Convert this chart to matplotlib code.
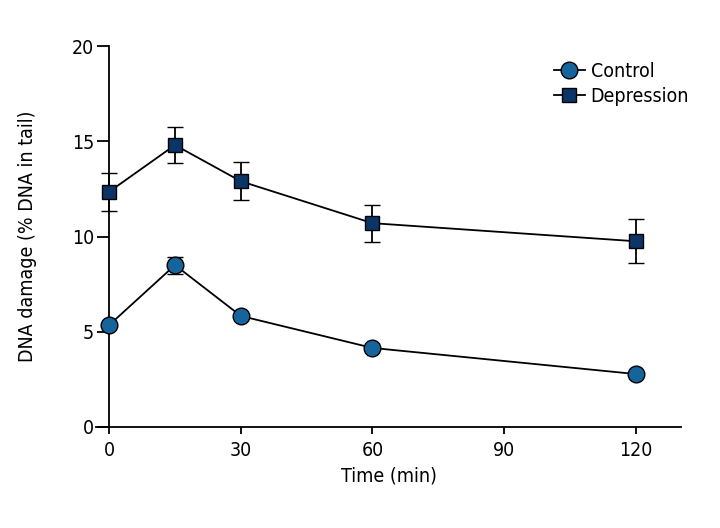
import matplotlib
matplotlib.use("Agg")
import matplotlib.pyplot as plt
from matplotlib.font_manager import fontManager
from matplotlib.lines import Line2D

# pick a condensed sans font if one is installed
cond = None
for f in fontManager.ttflist:
    st = str(f.stretch).lower()
    if ('condensed' in st or 'Narrow' in f.name or 'Condensed' in f.name) and f.style == 'normal' and f.weight in (400, 'normal', 'regular'):
        cond = f
        break
if cond is not None:
    plt.rcParams['font.family'] = [cond.name, 'DejaVu Sans']
    plt.rcParams['font.stretch'] = cond.stretch
else:
    plt.rcParams['font.family'] = ['Roboto', 'DejaVu Sans']

time = [0, 15, 30, 60, 120]
control = [5.35, 8.5, 5.83, 4.15, 2.78]
control_err = [0.0, 0.45, 0.0, 0.0, 0.0]
depression = [12.35, 14.8, 12.9, 10.7, 9.75]
depression_err = [1.0, 0.95, 1.0, 0.97, 1.15]
xticks = [0, 30, 60, 90, 120]
yticks = [0, 5, 10, 15, 20]

fs = 14

fig = plt.figure(figsize=(7.2, 5.28), dpi=100)
ax = fig.add_axes([96/720, 1-427/528, (681-96)/720, (427-46)/528])

ax.errorbar(time, depression, yerr=depression_err, color='black', lw=1.3,
            marker='s', markersize=10, markerfacecolor='#0b3566', markeredgecolor='black',
            markeredgewidth=1.0, capsize=6, capthick=1.3, elinewidth=1.3, label='Depression', zorder=3)
ax.errorbar(time, control, yerr=control_err, color='black', lw=1.3,
            marker='o', markersize=12, markerfacecolor='#16649c', markeredgecolor='black',
            markeredgewidth=1.0, capsize=6, capthick=1.3, elinewidth=1.3, label='Control', zorder=4)

ax.set_xlim(-3, 130.3)
ax.set_ylim(0, 20)
ax.spines['top'].set_visible(False)
ax.spines['right'].set_visible(False)
ax.spines['left'].set_position(('data', 0))
for s in ('left', 'bottom'):
    ax.spines[s].set_linewidth(1.3)
ax.set_xticks(xticks)
ax.set_yticks(yticks)
ax.tick_params(axis='y', length=9, width=1.3, labelsize=fs, pad=2)
ax.tick_params(axis='x', length=5, width=1.3, labelsize=fs, pad=5)
ax.set_xlabel('Time (min)', fontsize=fs, labelpad=5)
ax.set_ylabel('DNA damage (% DNA in tail)', fontsize=fs, labelpad=2)
ax.yaxis.set_label_coords(-0.1, 0.5)

h = [Line2D([], [], color='black', lw=1.3, marker='o', markersize=12, markerfacecolor='#16649c', markeredgecolor='black'),
     Line2D([], [], color='black', lw=1.3, marker='s', markersize=10, markerfacecolor='#0b3566', markeredgecolor='black')]
ax.legend(h, ['Control', 'Depression'], loc='upper left', bbox_to_anchor=((546-96)/585, 1-(54-46)/381),
          frameon=False, fontsize=fs, handlelength=1.6, handletextpad=0.3, labelspacing=0.3, borderaxespad=0)

fig.savefig('out.png', dpi=100)
